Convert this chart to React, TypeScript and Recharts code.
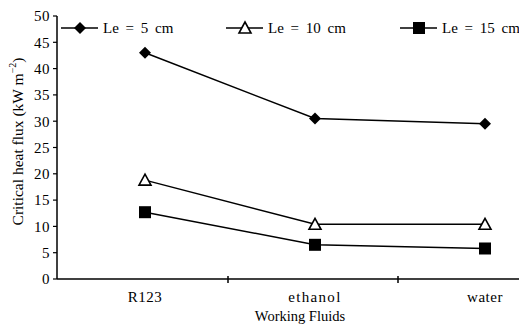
import React from 'react';
import { LineChart, Line, XAxis, YAxis } from 'recharts';

const fluids = ['R123', 'ethanol', 'water'];
const le5 = [43.0, 30.5, 29.5];
const le10 = [18.8, 10.4, 10.4];
const le15 = [12.7, 6.5, 5.8];
const yTicks = [0, 5, 10, 15, 20, 25, 30, 35, 40, 45, 50];

const seriesInfo = [
  { key: 'le5', name: 'Le = 5 cm', shape: 'diamond' },
  { key: 'le10', name: 'Le = 10 cm', shape: 'triangle' },
  { key: 'le15', name: 'Le = 15 cm', shape: 'square' },
];

const data = fluids.map((f, i) => ({ fluid: f, le5: le5[i], le10: le10[i], le15: le15[i] }));

const FONT = 'Liberation Serif';
// left edge of each legend entry (px)
const legendLeft = [61, 226, 400];

function Marker({ shape, cx, cy }: { shape: string; cx: number; cy: number }) {
  if (shape === 'diamond') {
    return <polygon points={`${cx},${cy - 6} ${cx + 6},${cy} ${cx},${cy + 6} ${cx - 6},${cy}`} fill="#000" />;
  }
  if (shape === 'triangle') {
    return (
      <polygon
        points={`${cx},${cy - 6} ${cx + 6},${cy + 5} ${cx - 6},${cy + 5}`}
        fill="#fff"
        stroke="#000"
        strokeWidth={1.6}
      />
    );
  }
  return <rect x={cx - 6} y={cy - 6} width={12} height={12} fill="#000" />;
}

const makeDot = (shape: string) => (props: any) => {
  const { cx, cy, index } = props;
  return <Marker key={`${shape}-${index}`} shape={shape} cx={cx} cy={cy} />;
};

function XTick(props: any) {
  const { x, y, payload, index } = props;
  return (
    <g>
      {index < 2 && <line x1={x + 83} x2={x + 83} y1={y - 3} y2={y + 4} stroke="#000" strokeWidth={1.5} />}
      <text
        x={x}
        y={y + 23}
        textAnchor="middle"
        fontFamily={FONT}
        fontSize={15}
        letterSpacing={index === 1 ? 1.3 : 0.5}
        fill="#000"
      >
        {payload.value}
      </text>
    </g>
  );
}

function XLabel({ viewBox }: any) {
  const x = viewBox.x + viewBox.width / 2 - 12;
  return (
    <text x={x} y={321} textAnchor="middle" fontFamily={FONT} fontSize={14.5} fill="#000">
      Working Fluids
    </text>
  );
}

function YLabel({ viewBox }: any) {
  const cx = 17;
  const cy = viewBox.y + viewBox.height / 2 - 6;
  return (
    <text
      x={cx}
      y={cy}
      transform={`rotate(-90 ${cx} ${cy})`}
      textAnchor="middle"
      dominantBaseline="central"
      fontFamily={FONT}
      fontSize={15.5}
      fill="#000"
    >
      Critical heat flux (kW m
      <tspan dy={-5} fontSize={10}>−2</tspan>
      <tspan dy={5}>)</tspan>
    </text>
  );
}

function LegendOverlay() {
  return (
    <svg width={519} height={328} style={{ position: 'absolute', left: 0, top: 0, pointerEvents: 'none' }}>
      {seriesInfo.map((s, i) => {
        const x0 = legendLeft[i];
        return (
          <g key={s.key}>
            <line x1={x0} x2={x0 + 37} y1={28} y2={28} stroke="#000" strokeWidth={1.5} />
            <Marker shape={s.shape} cx={x0 + 19} cy={28} />
            <text x={x0 + 42} y={33} fontFamily={FONT} fontSize={15} wordSpacing={3} fill="#000">
              {s.name}
            </text>
          </g>
        );
      })}
    </svg>
  );
}

export default function App() {
  return (
    <div
      style={{
        position: 'absolute',
        left: 0,
        top: 0,
        width: 519,
        height: 328,
        overflow: 'hidden',
        background: '#fff',
      }}
    >
      <LineChart width={580} height={328} data={data} margin={{ top: 16, right: 13, bottom: 19, left: 0 }}>
        <XAxis
          dataKey="fluid"
          padding={{ left: 88, right: 82 }}
          tickLine={false}
          tickSize={0}
          tickMargin={0}
          tick={<XTick />}
          interval={0}
          axisLine={{ stroke: '#000', strokeWidth: 1.5 }}
          height={30}
          label={<XLabel />}
        />
        <YAxis
          width={57}
          domain={[0, 50]}
          ticks={yTicks}
          interval={0}
          tickSize={4}
          tickMargin={3}
          tick={{ fontFamily: FONT, fontSize: 15, fill: '#000', letterSpacing: 0.5 }}
          tickLine={{ stroke: '#000', strokeWidth: 1.2 }}
          axisLine={{ stroke: '#000', strokeWidth: 1.5 }}
          label={<YLabel />}
        />
        {seriesInfo.map((s) => (
          <Line
            key={s.key}
            dataKey={s.key}
            name={s.name}
            stroke="#000"
            strokeWidth={1.5}
            dot={makeDot(s.shape)}
            activeDot={false}
            isAnimationActive={false}
          />
        ))}
      </LineChart>
      <LegendOverlay />
    </div>
  );
}
